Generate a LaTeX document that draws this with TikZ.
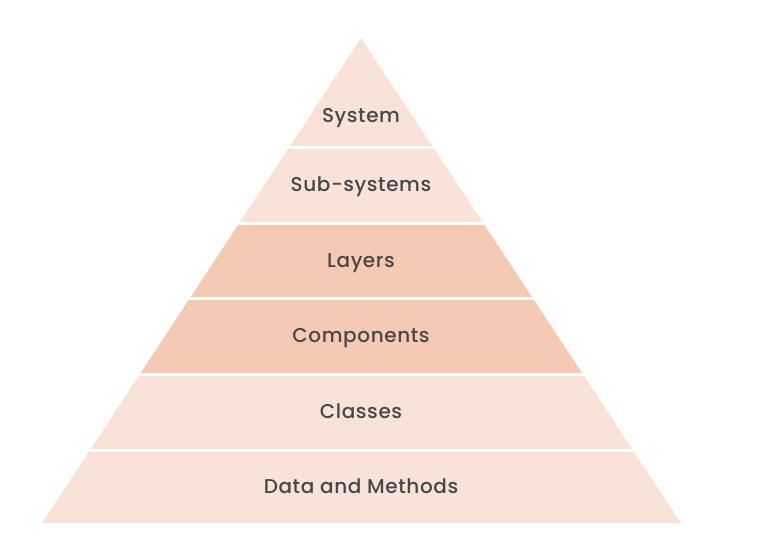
\documentclass[tikz,border=0pt]{standalone}
\usepackage{fontspec}
\setmainfont{Poppins}[UprightFont={* Medium},LetterSpace=3]
\definecolor{bandlight}{HTML}{F9E3D9}
\definecolor{banddark}{HTML}{F5CAB4}
\definecolor{txt}{HTML}{474747}
\tikzset{lbl/.style={text=txt,font=\fontsize{20}{22}\selectfont,inner sep=0pt,anchor=base},
  gap/.style={white,line width=3pt}}
\begin{document}
\begin{tikzpicture}[x=1pt,y=-1pt]
\useasboundingbox (0,0) rectangle (778,558);
\coordinate (apex) at (361,38);
\coordinate (bl) at (42,523);
\coordinate (br) at (681,523);
\begin{scope}
\clip (apex) -- (br) -- (bl) -- cycle;
\fill[bandlight] (0,30) rectangle (778,147.5);
\fill[bandlight] (0,147.5) rectangle (778,223.5);
\fill[banddark] (0,223.5) rectangle (778,298.5);
\fill[banddark] (0,298.5) rectangle (778,374.5);
\fill[bandlight] (0,374.5) rectangle (778,450.5);
\fill[bandlight] (0,450.5) rectangle (778,530);
\draw[gap] (0,147.5) -- (778,147.5);
\draw[gap] (0,223.5) -- (778,223.5);
\draw[gap] (0,298.5) -- (778,298.5);
\draw[gap] (0,374.5) -- (778,374.5);
\draw[gap] (0,450.5) -- (778,450.5);
\end{scope}
\node[lbl] (system) at (361,122.5) {System};
\node[lbl] (subsystems) at (361,191.5) {Sub-systems};
\node[lbl] (layers) at (361,267.5) {Layers};
\node[lbl] (components) at (361,342.5) {Components};
\node[lbl] (classes) at (361,418.5) {Classes};
\node[lbl] (data) at (361,493.5) {Data and Methods};
\end{tikzpicture}
\end{document}
